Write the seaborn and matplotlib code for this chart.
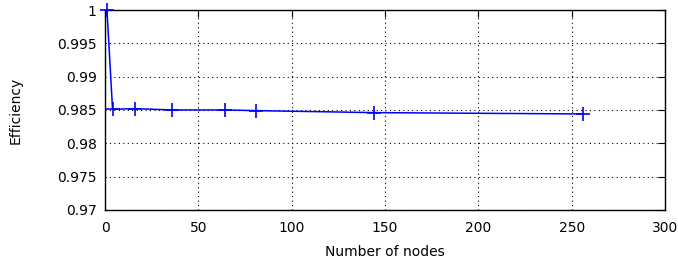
import pandas as pd
import matplotlib.pyplot as plt
import seaborn as sns

sns.set_style("white")
plt.rcParams['font.family'] = ['DejaVu Sans']
plt.rcParams['text.color'] = 'black'
plt.rcParams['axes.labelcolor'] = 'black'
plt.rcParams['xtick.color'] = 'black'
plt.rcParams['ytick.color'] = 'black'

# Data
nodes = [1, 4, 16, 36, 64, 81, 144, 256]
efficiency = [1.0, 0.9851, 0.9852, 0.9850, 0.9850, 0.9849, 0.9846, 0.9844]
df = pd.DataFrame({"nodes": nodes, "efficiency": efficiency})

fig = plt.figure(figsize=(6.78, 2.64), dpi=100)
ax = fig.add_axes([0.155, 0.205, 0.826, 0.757])

sns.lineplot(x="nodes", y="efficiency", data=df, ax=ax, color="#0000ff",
             marker="+", markersize=10, markeredgewidth=1.2,
             markeredgecolor="#0000ff", linewidth=1.1, clip_on=False,
             zorder=5)

ax.set_xlim(0, 300)
ax.set_ylim(0.97, 1.0)
ax.set_xticks([0, 50, 100, 150, 200, 250, 300])
ax.set_yticks([0.97, 0.975, 0.98, 0.985, 0.99, 0.995, 1.0])
ax.set_yticklabels(["0.97", "0.975", "0.98", "0.985", "0.99", "0.995", "1"])
ax.grid(True, color="black", linestyle=(0, (1, 3)), linewidth=0.8)
ax.tick_params(direction="in", length=5, top=True, right=True, labelsize=10,
               width=0.8)
ax.tick_params(axis="x", pad=8)
ax.tick_params(axis="y", pad=6)
for s in ax.spines.values():
    s.set_color("black")
    s.set_linewidth(1.0)
ax.set_xlabel("Number of nodes", fontsize=10, labelpad=7)
ax.set_ylabel("Efficiency", fontsize=10, labelpad=25)

fig.savefig("out.png", dpi=100)
